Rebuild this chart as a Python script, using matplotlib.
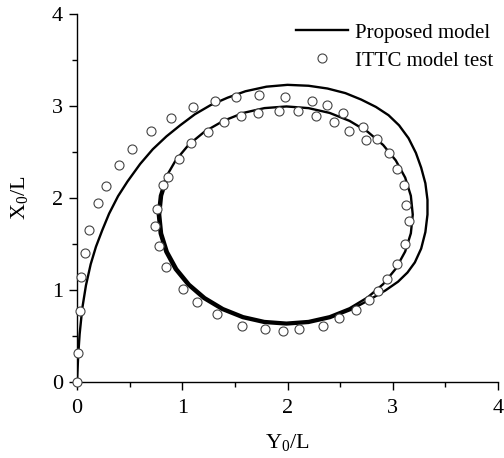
import matplotlib
matplotlib.use("Agg")
import matplotlib.pyplot as plt

plt.rcParams['font.family'] = ['Liberation Serif', 'DejaVu Serif']
plt.rcParams['mathtext.fontset'] = 'custom'
plt.rcParams['mathtext.rm'] = 'Liberation Serif'
plt.rcParams['mathtext.it'] = 'Liberation Serif:italic'

# Proposed model trajectory (Y0/L, X0/L)
model_y = [0.00, 0.005, 0.012, 0.025, 0.05, 0.085, 0.13, 0.18, 0.24, 0.305, 0.39, 0.48, 0.60, 0.72,
           0.85, 0.98, 1.12, 1.27, 1.43, 1.60, 1.80, 2.00, 2.20, 2.38, 2.55, 2.70, 2.84,
           2.96, 3.06, 3.15, 3.22, 3.27, 3.31, 3.33, 3.33, 3.31, 3.27, 3.21, 3.14, 3.05,
           2.93, 2.78,
           2.60, 2.405, 2.20, 1.99, 1.778, 1.573, 1.378, 1.202, 1.052, 0.93, 0.84, 0.786,
           0.768, 0.788, 0.845, 0.938, 1.062, 1.213,
           1.390, 1.580, 1.781, 1.99, 2.199, 2.400, 2.590, 2.762, 2.909, 3.029, 3.118,
           3.172, 3.19, 3.172, 3.118, 3.029, 2.909, 2.762, 2.590, 2.400, 2.199, 1.99,
           1.781, 1.580, 1.390, 1.218, 1.071, 0.951, 0.862, 0.808, 0.79, 0.808, 0.862]
model_x = [0.00, 0.13, 0.30, 0.52, 0.80, 1.05, 1.28, 1.47, 1.65, 1.83, 2.02, 2.18, 2.37, 2.53,
           2.67, 2.79, 2.91, 3.01, 3.09, 3.16, 3.21, 3.23, 3.22, 3.19, 3.14, 3.07, 2.99,
           2.90, 2.79, 2.65, 2.49, 2.33, 2.16, 1.98, 1.82, 1.63, 1.45, 1.30, 1.19, 1.09,
           0.995, 0.895,
           0.783, 0.695, 0.642, 0.625, 0.642, 0.695, 0.784, 0.904, 1.052, 1.222, 1.412, 1.613,
           1.82, 2.026, 2.226, 2.410, 2.580, 2.722,
           2.838, 2.925, 2.977, 2.995, 2.977, 2.925, 2.838, 2.720, 2.576, 2.408, 2.222,
           2.024, 1.82, 1.616, 1.418, 1.232, 1.064, 0.920, 0.802, 0.715, 0.663, 0.645,
           0.663, 0.715, 0.802, 0.920, 1.064, 1.232, 1.418, 1.616, 1.82, 2.024, 2.222]

# ITTC model test points (Y0/L, X0/L)
ittc_y = [0.00, 0.01, 0.03, 0.04, 0.08, 0.11, 0.20, 0.28, 0.40, 0.52, 0.70, 0.89, 1.10,
          1.31, 1.51, 1.73, 1.98, 2.23, 2.38, 2.53, 2.72, 2.85, 2.96, 3.04, 3.11, 3.13,
          3.15, 3.12, 3.04, 2.95, 2.86, 2.77, 2.65, 2.49, 2.34, 2.11, 1.96, 1.79, 1.57,
          1.33, 1.14, 1.01, 0.85, 0.78, 0.74, 0.76, 0.82, 0.86, 0.97, 1.08, 1.24, 1.40,
          1.56, 1.72, 1.92, 2.10, 2.27, 2.44, 2.58, 2.75]
ittc_x = [0.00, 0.32, 0.77, 1.14, 1.40, 1.65, 1.95, 2.13, 2.36, 2.53, 2.73, 2.87, 2.99,
          3.05, 3.10, 3.12, 3.10, 3.05, 3.01, 2.92, 2.77, 2.64, 2.49, 2.32, 2.14, 1.92,
          1.75, 1.50, 1.28, 1.12, 0.99, 0.89, 0.78, 0.70, 0.61, 0.58, 0.55, 0.58, 0.61,
          0.74, 0.87, 1.01, 1.25, 1.48, 1.70, 1.88, 2.14, 2.23, 2.42, 2.60, 2.72, 2.83,
          2.89, 2.92, 2.95, 2.95, 2.89, 2.83, 2.73, 2.63]

x_ticks = [0, 1, 2, 3, 4]
y_ticks = [0, 1, 2, 3, 4]

fig = plt.figure(figsize=(5.04, 4.58), dpi=100)
ax = fig.add_axes([77/504, 76/458, 421/504, 368/458])

ax.plot(model_y, model_x, color='black', lw=1.7, label='Proposed model', zorder=2)
ax.plot(ittc_y, ittc_x, linestyle='none', marker='o', ms=6.5, mfc='white',
        mec='#444444', mew=0.8, label='ITTC model test', zorder=3, clip_on=False)

ax.set_xlim(0, 4)
ax.set_ylim(0, 4)
ax.set_xticks(x_ticks)
ax.set_yticks(y_ticks)
ax.set_xticks([0.5, 1.5, 2.5, 3.5], minor=True)
ax.set_yticks([0.5, 1.5, 2.5, 3.5], minor=True)
ax.spines['top'].set_visible(False)
ax.spines['right'].set_visible(False)
for s in ['left', 'bottom']:
    ax.spines[s].set_linewidth(1.0)
ax.tick_params(which='major', direction='out', length=6, width=1.0, labelsize=16)
ax.tick_params(axis='x', which='major', pad=6)
ax.tick_params(axis='y', which='major', pad=4)
ax.tick_params(which='minor', direction='out', length=3.5, width=1.0)

ax.set_xlabel(r'Y$_\mathrm{0}$/L', fontsize=16, labelpad=10)
ax.set_ylabel(r'X$_\mathrm{0}$/L', fontsize=16, labelpad=16)

leg = fig.legend(loc='upper left', bbox_to_anchor=(296/504, 1 - 23/458),
                 frameon=False, fontsize=15, handlelength=2.5, handletextpad=0.35,
                 labelspacing=0.4, borderpad=0, borderaxespad=0)

fig.savefig('out.png', dpi=100)
